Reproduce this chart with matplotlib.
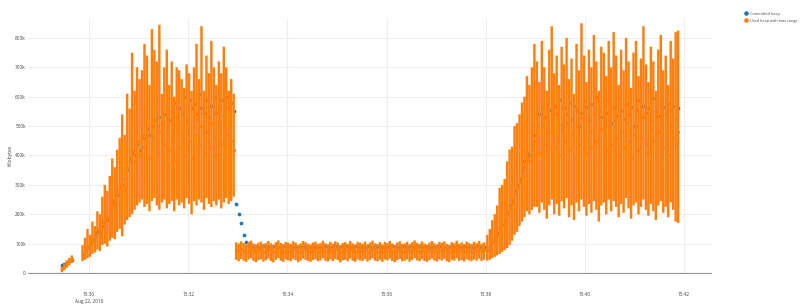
import datetime as dt
import matplotlib
matplotlib.use("Agg")
import matplotlib.pyplot as plt
from matplotlib.lines import Line2D
import numpy as np

plt.rcParams["font.family"] = ["Open Sans", "DejaVu Sans"]

DAY = dt.datetime(2016, 8, 22)
STEP = 3  # seconds between samples

# ---- heap samples, in kilobytes / 1000 ----
# short blip before the first load
warm_start = (15, 29, 27)
warm_mid = [12, 22, 31, 40, 47]
warm_lo = [3, 10, 18, 27, 34]
warm_hi = [20, 32, 43, 52, 60]
warm_committed = [28, 32, 37, 41, 46]

# first load phase
load1_start = (15, 29, 52)
load1_mid = [55, 70, 85, 100, 115, 130, 150, 140, 175, 200,
             190, 230, 250, 240, 280, 300, 320, 290, 360, 390,
             420, 380, 450, 400, 470, 430, 500, 390, 460, 520,
             410, 480, 370, 440, 500, 420, 460, 380, 490, 430,
             470, 400, 510, 450, 390, 470, 520, 440, 500, 410,
             480, 430, 510, 460, 400, 490, 440, 520, 470, 390,
             450, 420]
load1_lo = [40, 45, 50, 55, 65, 70, 80, 75, 95, 100,
            90, 110, 120, 115, 140, 150, 125, 165, 180, 190,
            200, 215, 230, 240, 250, 225, 235, 210, 245, 255,
            230, 215, 240, 250, 220, 235, 245, 210, 250, 230,
            240, 220, 255, 235, 200, 245, 230, 250, 240, 215,
            255, 235, 225, 245, 230, 250, 220, 240, 255, 235,
            245, 260]
load1_hi = [95, 120, 150, 130, 175, 160, 210, 200, 260, 300,
            280, 330, 390, 360, 420, 460, 540, 470, 610, 560,
            750, 620, 700, 660, 690, 780, 740, 640, 830, 760,
            720, 845, 610, 700, 760, 640, 720, 600, 700, 690,
            660, 630, 710, 680, 620, 700, 780, 660, 840, 620,
            740, 680, 790, 700, 640, 720, 680, 770, 700, 620,
            660, 610]
load1_committed = [60, 75, 90, 100, 110, 125, 140, 130, 160, 185,
                   180, 215, 240, 230, 265, 290, 300, 285, 350, 380,
                   410, 400, 440, 420, 470, 460, 490, 470, 500, 520,
                   500, 530, 510, 540, 560, 520, 550, 580, 530, 560,
                   540, 600, 520, 590, 560, 575, 540, 610, 560, 545,
                   590, 530, 570, 600, 545, 565, 590, 535, 600, 560,
                   580, 550]

# idle phase
idle_start = (15, 32, 58)
idle_mid = [78, 74, 81, 76, 72, 79, 83, 75, 70, 77,
            80, 73, 76, 82, 74, 71, 78, 84, 75, 72,
            79, 76, 73, 81, 77, 70, 75, 82, 78, 74,
            71, 77, 80, 73, 76, 83, 75, 72, 79, 74,
            81, 77, 70, 76, 78, 73, 82, 75, 71, 79,
            76, 74, 80, 72, 77, 83, 75, 73, 78, 71,
            79, 76, 82, 74, 70, 77, 81, 73, 75, 79,
            72, 78, 84, 76, 73, 80, 74, 71, 77, 82,
            75, 72, 79, 76, 81, 73, 70, 78, 75, 83,
            74, 77, 72, 80, 76, 73, 79, 75, 82, 74,
            78]
idle_lo = [45, 40, 48, 42, 38, 46, 50, 41, 37, 44,
           47, 39, 43, 49, 41, 36, 45, 51, 42, 38,
           46, 43, 40, 48, 44, 37, 42, 49, 45, 41,
           38, 44, 47, 40, 43, 50, 42, 39, 46, 41,
           48, 44, 36, 43, 45, 40, 49, 42, 38, 46,
           43, 41, 47, 39, 44, 50, 42, 40, 45, 38,
           46, 43, 49, 41, 37, 44, 48, 40, 42, 46,
           39, 45, 51, 43, 40, 47, 41, 38, 44, 49,
           42, 39, 46, 43, 48, 40, 37, 45, 42, 50,
           41, 44, 39, 47, 43, 40, 46, 42, 49, 41,
           45]
idle_hi = [104, 100, 108, 102, 97, 106, 110, 101, 96, 103,
           107, 99, 102, 109, 101, 95, 105, 111, 102, 98,
           106, 103, 99, 108, 104, 96, 101, 109, 105, 100,
           97, 104, 107, 99, 102, 110, 101, 98, 106, 100,
           108, 104, 95, 102, 105, 99, 109, 101, 97, 106,
           103, 100, 107, 98, 104, 110, 101, 99, 105, 97,
           106, 102, 109, 100, 96, 104, 108, 99, 101, 106,
           98, 105, 111, 103, 99, 107, 100, 97, 104, 109,
           101, 98, 106, 103, 108, 99, 96, 105, 101, 110,
           100, 104, 98, 107, 102, 99, 106, 101, 109, 100,
           104]
idle_committed = [235, 200, 170, 130, 105, 92, 90, 89, 91, 90,
                  90, 91, 89, 90, 90, 91, 90, 89, 90, 91,
                  89, 90, 91, 90, 89, 90, 90, 91, 90, 89,
                  90, 91, 90, 89, 90, 90, 91, 89, 90, 90,
                  91, 90, 89, 90, 91, 90, 90, 89, 91, 90,
                  90, 89, 90, 91, 90, 90, 89, 90, 91, 90,
                  89, 90, 90, 91, 90, 89, 90, 91, 90, 90,
                  91, 89, 90, 90, 91, 90, 89, 90, 90, 91,
                  90, 89, 91, 90, 90, 89, 90, 91, 90, 90,
                  89, 90, 91, 90, 89, 90, 90, 91, 90, 89,
                  90]

# second load phase
load2_start = (15, 38, 2)
load2_mid = [78, 90, 105, 115, 130, 150, 160, 175, 200, 220,
             240, 270, 290, 310, 340, 360, 390, 380, 420, 450,
             470, 410, 500, 440, 380, 480, 520, 430, 460, 400,
             490, 450, 510, 420, 470, 390, 500, 440, 530, 460,
             410, 480, 430, 510, 450, 380, 490, 470, 420, 500,
             440, 520, 460, 400, 480, 430, 510, 450, 390, 470,
             500, 420, 460, 530, 440, 410, 490, 450, 380, 480,
             520, 430, 470, 400, 500, 460, 440, 480]
load2_lo = [42, 45, 50, 55, 60, 65, 72, 78, 85, 95,
            110, 130, 140, 160, 175, 190, 210, 200, 215, 225,
            225, 205, 240, 215, 185, 230, 250, 200, 235, 195,
            245, 220, 255, 190, 230, 180, 240, 210, 250, 225,
            195, 235, 205, 245, 215, 175, 230, 240, 200, 250,
            210, 245, 225, 190, 235, 205, 255, 220, 185, 230,
            240, 200, 225, 250, 215, 195, 235, 210, 180, 230,
            245, 205, 225, 190, 240, 215, 175, 170]
load2_hi = [130, 150, 180, 200, 230, 290, 300, 320, 380, 420,
            430, 500, 510, 540, 580, 600, 670, 640, 700, 780,
            720, 650, 790, 700, 620, 760, 840, 680, 740, 640,
            770, 710, 800, 660, 730, 610, 780, 690, 850, 740,
            650, 760, 700, 810, 720, 620, 770, 750, 670, 790,
            700, 820, 740, 640, 760, 690, 800, 720, 630, 750,
            790, 670, 730, 840, 710, 650, 770, 720, 620, 760,
            810, 690, 740, 640, 790, 730, 820, 825]
load2_committed = [80, 90, 105, 120, 135, 150, 165, 180, 205, 230,
                   250, 280, 300, 320, 350, 380, 410, 400, 440, 470,
                   500, 540, 560, 530, 580, 555, 520, 570, 540, 590,
                   505, 560, 540, 580, 525, 570, 555, 500, 545, 585,
                   565, 520, 575, 540, 600, 555, 530, 570, 545, 590,
                   510, 560, 535, 595, 550, 525, 575, 540, 565, 500,
                   555, 590, 530, 570, 545, 560, 520, 595, 550, 535,
                   575, 565, 540, 580, 555, 570, 525, 560]

y_ticks = [0, 100, 200, 300, 400, 500, 600, 700, 800]
y_labels = ["0", "100k", "200k", "300k", "400k", "500k", "600k", "700k", "800k"]
x_ticks = [(15, 30), (15, 32), (15, 34), (15, 36), (15, 38), (15, 40), (15, 42)]
x_labels = ["15:30\nAug 22, 2016", "15:32", "15:34", "15:36", "15:38", "15:40", "15:42"]


def clock(h, m, s=0):
    return DAY.replace(hour=h, minute=m, second=s)


phases = [(warm_start, warm_mid, warm_lo, warm_hi, warm_committed),
          (load1_start, load1_mid, load1_lo, load1_hi, load1_committed),
          (idle_start, idle_mid, idle_lo, idle_hi, idle_committed),
          (load2_start, load2_mid, load2_lo, load2_hi, load2_committed)]
t, mid, lo, hi, com = [], [], [], [], []
for start, m, l, h, c in phases:
    t0 = clock(*start)
    t += [t0 + dt.timedelta(seconds=STEP * i) for i in range(len(m))]
    mid += m; lo += l; hi += h; com += c
mid, lo, hi, com = map(np.array, (mid, lo, hi, com))

BLUE, ORANGE = "#1f77b4", "#ff7f0e"
fig = plt.figure(figsize=(8, 3.04), dpi=100)
ax = fig.add_axes([0.035, 0.099, 0.855, 0.839])

ax.plot(t, com, "o", color=BLUE, ms=2.7, mew=0, zorder=2)
eb = ax.errorbar(t, mid, yerr=[mid - lo, hi - mid], fmt="o", color=ORANGE, ms=2.3, mew=0,
                 ecolor=ORANGE, elinewidth=1.75, capsize=2.2, capthick=0.7, zorder=3)
for coll in eb[2]:
    coll.set_snap(False)   # keep the dense whiskers from snapping into stripes
for cap in eb[1]:
    cap.set_snap(False)

ax.set_xlim(clock(15, 28, 46), clock(15, 42, 34))
ax.set_ylim(-3, 865)
ax.set_yticks(y_ticks)
ax.set_yticklabels(y_labels)
ax.set_xticks([clock(h, m) for h, m in x_ticks])
ax.set_xticklabels(x_labels, linespacing=1.5)
ax.tick_params(length=0, labelsize=3.4, colors="#444")
ax.tick_params(axis="x", pad=13)
ax.tick_params(axis="y", pad=1.5)
ax.grid(color="#eeeeee", lw=0.8, zorder=0)
ax.set_axisbelow(True)
for s in ax.spines.values():
    s.set_visible(False)
ax.axhline(0, color="#999999", lw=0.9, zorder=1)

fig.text(10 / 800, 0.49, "Kilobytes", rotation=90, ha="center", va="center",
         fontsize=3.6, color="#444")

handles = [Line2D([], [], marker="o", ls="", color=BLUE, ms=2.3, label="Committed heap"),
           Line2D([], [], marker="o", ls="", color=ORANGE, ms=2.3, label="Used heap with max range")]
fig.legend(handles=handles, loc="upper left", bbox_to_anchor=(0.929, 0.967), frameon=False,
           fontsize=2.7, handlelength=0.7, handletextpad=0.7, labelspacing=0.8,
           borderaxespad=0, labelcolor="#444")

fig.savefig("out.png", dpi=100)
